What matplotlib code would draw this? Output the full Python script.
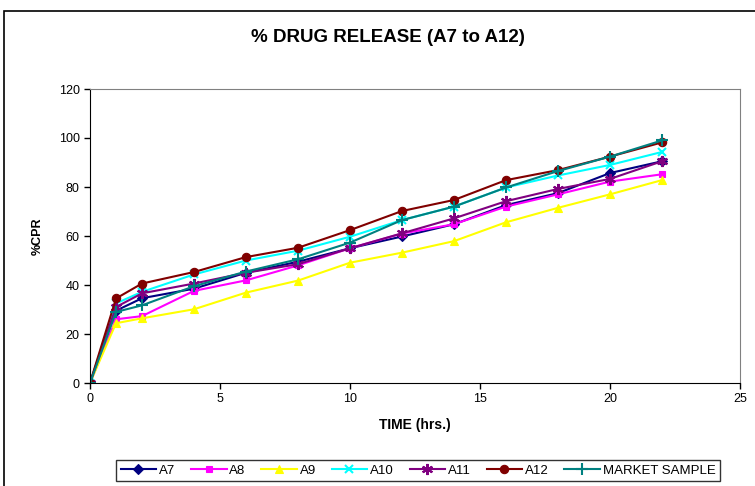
import matplotlib.pyplot as plt
from matplotlib.patches import Rectangle

plt.rcParams['font.family'] = ['Liberation Sans', 'DejaVu Sans']

# time points (hrs) and %CPR for each batch
time_hrs = [0, 1, 2, 4, 6, 8, 10, 12, 14, 16, 18, 20, 22]
a7 = [0, 29.5, 34.6, 38.5, 45, 49.5, 55, 59.8, 64.8, 72.6, 77.5, 85.7, 90.5]
a8 = [0, 26, 27.3, 37.6, 41.9, 48, 55, 61, 64.8, 72, 77, 82.2, 85.2]
a9 = [0, 24.4, 26.4, 30.1, 36.9, 41.8, 49.1, 53.2, 57.9, 65.6, 71.5, 77, 82.8]
a10 = [0, 32.5, 37.2, 44.3, 50, 54, 59.7, 66.5, 72, 79.8, 84.7, 89, 94.3]
a11 = [0, 31, 36.6, 40.6, 45, 48.5, 55, 61.1, 67.2, 74.2, 79.2, 83.3, 90.5]
a12 = [0, 34.5, 40.6, 45.3, 51.4, 55.2, 62.4, 70.2, 74.7, 82.8, 86.9, 92.4, 98.2]
market = [0, 29, 31.7, 39.5, 45.5, 50.5, 57.3, 66.5, 72, 79.8, 86.5, 92.4, 99]

series = [
    ("A7", a7, "#000080", "D", 5),
    ("A8", a8, "#FF00FF", "s", 5),
    ("A9", a9, "#FFFF00", "^", 6),
    ("A10", a10, "#00FFFF", "x", 6),
    ("A11", a11, "#800080", (6, 2, 0), 8),
    ("A12", a12, "#800000", "o", 6),
    ("MARKET SAMPLE", market, "#008080", "+", 8),
]

W, H = 755, 486
fig = plt.figure(figsize=(W / 100, H / 100), dpi=100)

# outer chart border (cut off at right and bottom like the reference)
fig.patches.append(Rectangle((4 / W, -0.1), 1.2, 1 - 11 / H + 0.1,
                             transform=fig.transFigure, fill=False,
                             edgecolor='black', linewidth=1.2))

ax = fig.add_axes([90 / W, 1 - 383 / H, (740 - 90) / W, (383 - 89) / H])

for name, vals, col, mk, ms in series:
    ax.plot(time_hrs, vals, color=col, marker=mk, markersize=ms, linewidth=1.5,
            markeredgewidth=1.5 if mk in ("x", "+") or isinstance(mk, tuple) else 0.8,
            label=name)

ax.set_xlim(0, 25)
ax.set_ylim(0, 120)
ax.set_xticks(range(0, 26, 5))
ax.set_yticks(range(0, 121, 20))
ax.tick_params(direction='out', length=4, labelsize=9, width=1)
for s in ('left', 'bottom'):
    ax.spines[s].set_color('black')
for s in ('top', 'right'):
    ax.spines[s].set_color('#808080')

ax.set_xlabel("TIME (hrs.)", fontsize=10, fontweight='bold', labelpad=9)
ax.set_ylabel("%CPR", fontsize=9, fontweight='bold', labelpad=11)

fig.text(388 / W, 1 - 38 / H, "% DRUG RELEASE (A7 to A12)", ha='center', va='center',
         fontsize=13.5, fontweight='bold')

leg = fig.legend(loc='upper center', bbox_to_anchor=(418 / W, 1 - 460 / H), ncol=7,
                 fontsize=9.5, frameon=True, fancybox=False, edgecolor='black',
                 handlelength=2.7, handletextpad=0.2, columnspacing=1.2,
                 borderpad=0.35, borderaxespad=0)
leg.get_frame().set_linewidth(1.0)

fig.savefig("out.png", dpi=100)
